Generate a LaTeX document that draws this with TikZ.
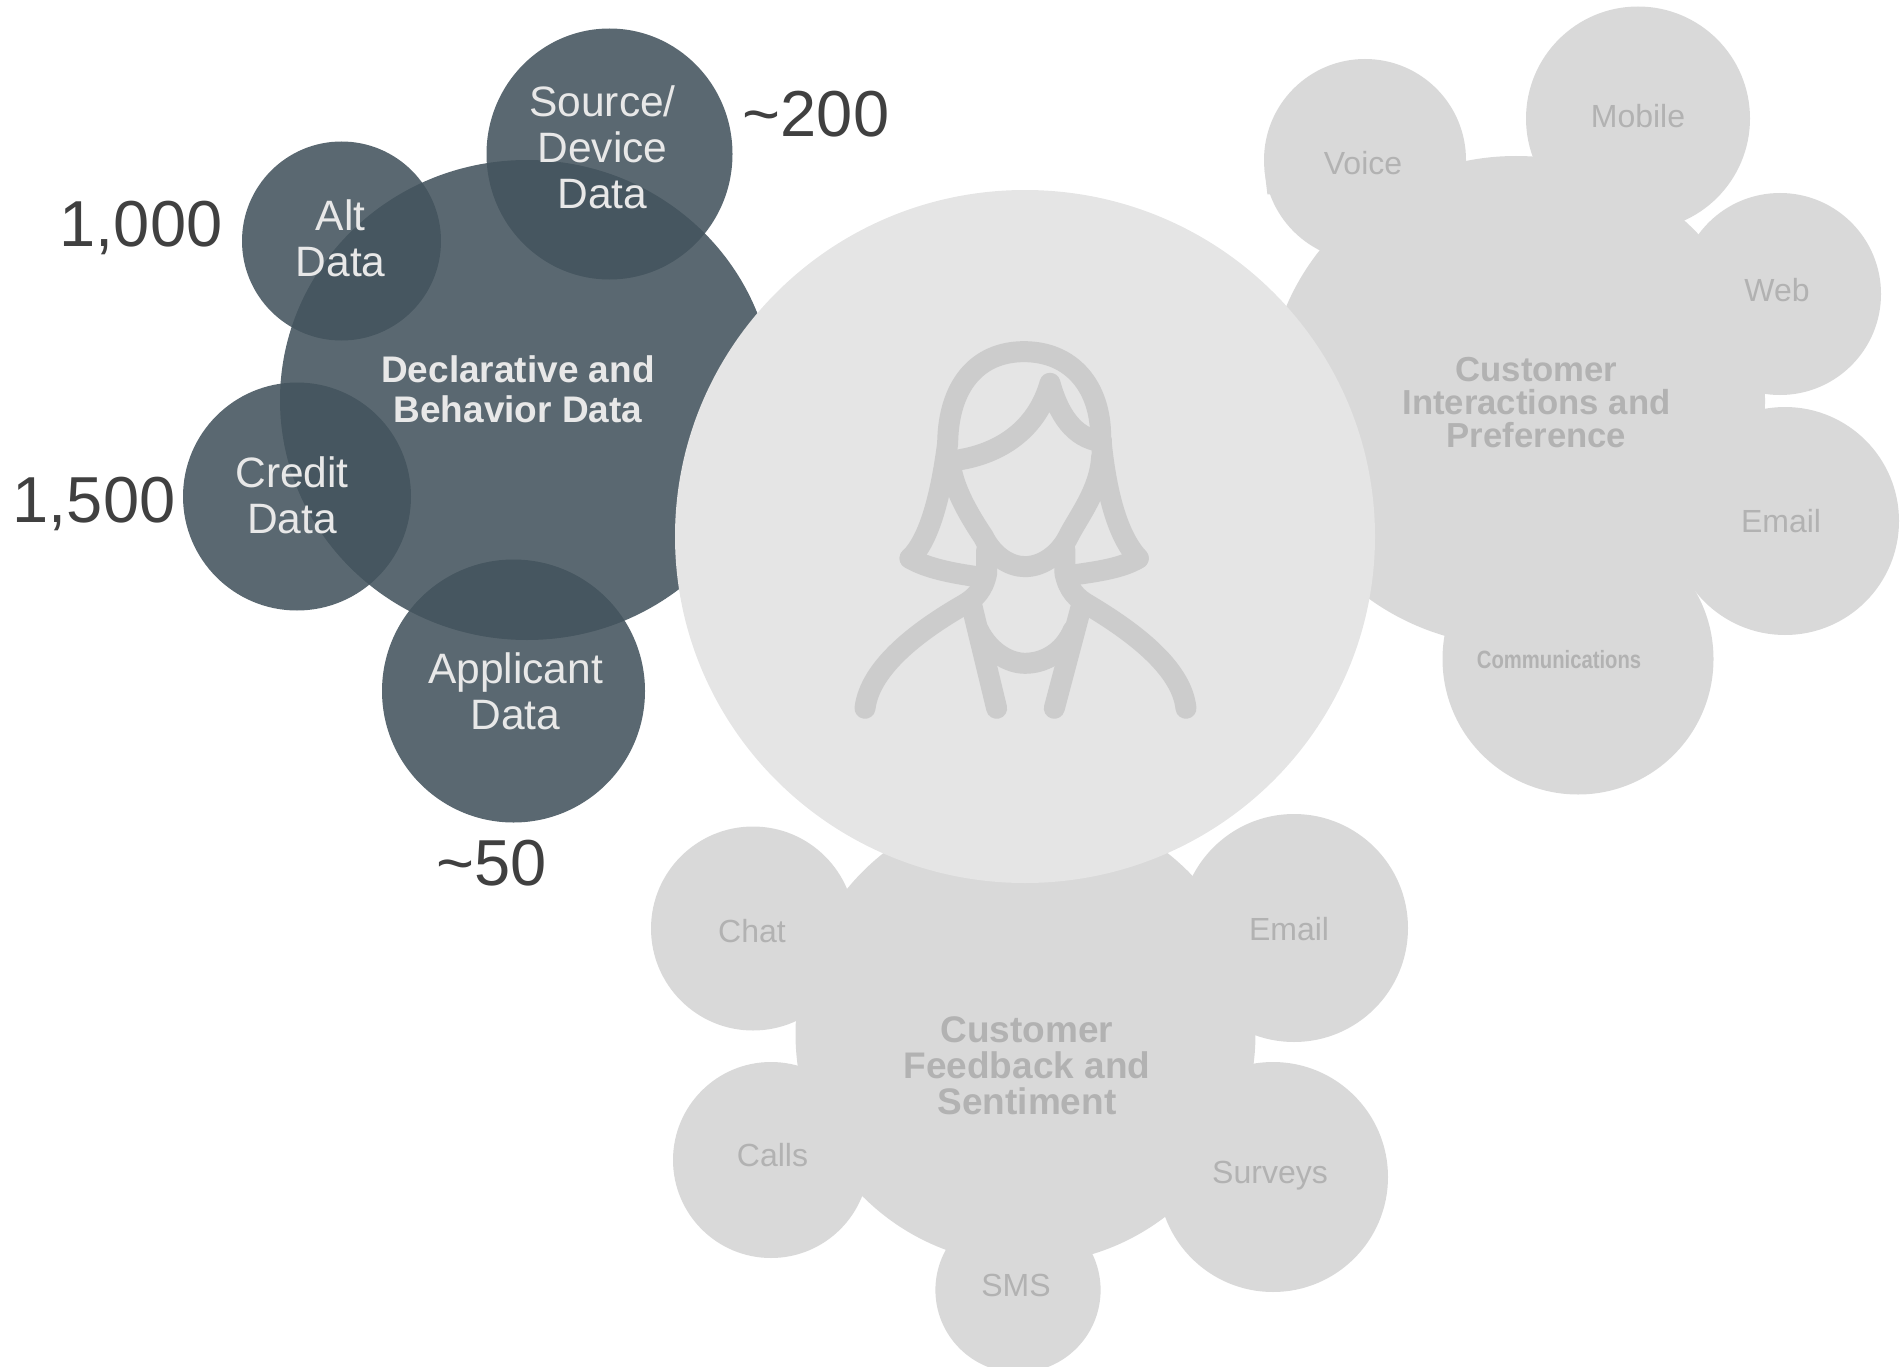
\documentclass[tikz,border=0pt]{standalone}
\usepackage{fontspec}
\setmainfont{Liberation Sans}
\newfontfamily\commfont[FakeStretch=0.81]{Liberation Sans}
\definecolor{slateblob}{HTML}{43535D}
\definecolor{greyblob}{HTML}{D9D9D9}
\definecolor{hubfill}{HTML}{E5E5E5}
\definecolor{iconline}{HTML}{CCCCCC}
\definecolor{mutedtext}{HTML}{B2B2B2}
\definecolor{lighttext}{HTML}{E8E8E8}
\definecolor{counttext}{HTML}{404040}
\tikzset{
  darkblob/.style={fill=slateblob,fill opacity=0.88},
  greyshape/.style={fill=greyblob},
  txt/.style={inner sep=0pt,align=center},
  darklabel/.style={txt,text=lighttext,font=\fontsize{42.5}{46}\selectfont},
  darktitle/.style={txt,text=lighttext,font=\fontsize{37}{40}\selectfont\bfseries},
  countlabel/.style={txt,text=counttext,font=\fontsize{65}{70}\selectfont},
  greylabel/.style={txt,text=mutedtext,font=\fontsize{32}{36}\selectfont},
  greytitleA/.style={txt,text=mutedtext,font=\fontsize{34.7}{33}\selectfont\bfseries},
  greytitleB/.style={txt,text=mutedtext,font=\fontsize{37}{36}\selectfont\bfseries},
  iconstroke/.style={draw=iconline,line width=21pt,line cap=round,line join=round},
}
\begin{document}
\begin{tikzpicture}[x=1pt,y=-1pt]
\useasboundingbox (0,0) rectangle (1901,1367);
\clip (0,0) rectangle (1901,1367);
% right cluster
\path[greyshape] (1516,401) ellipse [x radius=249pt,y radius=245pt];
\path[greyshape] (1365,160) circle [radius=101pt];
\path[greyshape] (1264.5,170) -- (1267.4,194.5) -- (1271,194.5) -- cycle;
\path[greyshape] (1638,118.5) circle [radius=112pt];
\path[greyshape] (1780,294) circle [radius=101pt];
\path[greyshape] (1785,521) circle [radius=114pt];
\path[greyshape] (1578,659) circle [radius=135.5pt];
% bottom cluster
\path[greyshape] (1025.5,1034) circle [radius=230pt];
\path[greyshape] (753,928.5) circle [radius=102pt];
\path[greyshape] (1294,928) circle [radius=114pt];
\path[greyshape] (771,1160) circle [radius=98pt];
\path[greyshape] (1273,1177) circle [radius=115pt];
\path[greyshape] (1018,1290) circle [radius=82.6pt];
% dark cluster
\path[darkblob] (527,400) ellipse [x radius=247pt,y radius=240pt];
\path[darkblob] (609.5,154) ellipse [x radius=123pt,y radius=125.5pt];
\path[darkblob] (341.5,241) circle [radius=99.5pt];
\path[darkblob] (297,496.5) circle [radius=114pt];
\path[darkblob] (513.5,691) circle [radius=131.5pt];
% hub
\path[fill=hubfill] (1025,536.5) ellipse [x radius=350pt,y radius=346.5pt];
% person icon
\begin{scope}[shift={(820,310)},x=0.3333pt,y=-0.3333pt]
\draw[iconstroke] (270,745) .. controls (340,680) and (370,500) .. (383,400) .. controls (385,230) and (470,125) .. (612,125) .. controls (755,125) and (842,230) .. (842,380) .. controls (855,520) and (885,670) .. (955,745);
\draw[iconstroke] (470,800) .. controls (400,790) and (320,775) .. (270,745);
\draw[iconstroke] (760,795) .. controls (830,785) and (905,775) .. (955,745);
\draw[iconstroke] (415,450) .. controls (540,430) and (650,360) .. (690,220) .. controls (715,310) and (760,385) .. (845,395);
\draw[iconstroke] (390,450) .. controls (395,530) and (450,620) .. (490,680) .. controls (520,740) and (570,770) .. (615,770) .. controls (670,770) and (720,730) .. (745,680) .. controls (775,620) and (840,540) .. (845,440);
\draw[iconstroke] (500,720) -- (500,790) .. controls (490,840) and (465,865) .. (430,885) .. controls (300,960) and (150,1070) .. (135,1195);
\draw[iconstroke] (735,720) -- (735,790) .. controls (745,840) and (770,865) .. (805,885) .. controls (930,960) and (1085,1070) .. (1098,1195);
\draw[iconstroke] (455,885) -- (530,1195);
\draw[iconstroke] (785,885) -- (703,1195);
\draw[iconstroke] (475,960) .. controls (510,1030) and (570,1060) .. (615,1060) .. controls (670,1060) and (730,1030) .. (760,960);
\end{scope}
% dark labels
\node[darklabel] (src) at (602.5,147.4) {Source/\\Device\\Data};
\node[darklabel] (alt) at (340.7,238.4) {Alt\\Data};
\node[darklabel] (crd) at (292,495.4) {Credit\\Data};
\node[darklabel] (app) at (515.5,691.4) {Applicant\\Data};
\node[darktitle] (dec) at (518,389) {Declarative and\\Behavior Data};
% counts
\node[countlabel] (n200) at (816,114) {\char`\~200};
\node[countlabel] (n1000) at (141,227.5) {1,000};
\node[countlabel] (n1500) at (94,503.5) {1,500};
\node[countlabel] (n50) at (492,863) {\char`\~50};
% right labels
\node[greylabel] (voice) at (1363,163) {Voice};
\node[greylabel] (mobile) at (1638,116.4) {Mobile};
\node[greylabel] (web) at (1777,290) {Web};
\node[greylabel] (email1) at (1781,521) {Email};
\node[txt,text=mutedtext,font=\commfont\bfseries\fontsize{25}{28}\selectfont] (comm) at (1559,660) {Communications};
\node[greytitleA] (cip) at (1536.5,402.5) {Customer\\Interactions and\\Preference};
% bottom labels
\node[greylabel] (chat) at (752,931) {Chat};
\node[greylabel] (email2) at (1289,929) {Email};
\node[greylabel] (calls) at (772.5,1155) {Calls};
\node[greylabel] (surveys) at (1270,1176) {Surveys};
\node[greylabel] (sms) at (1016,1285) {SMS};
\node[greytitleB] (cfs) at (1027,1066) {Customer\\Feedback and\\Sentiment};
\end{tikzpicture}
\end{document}
